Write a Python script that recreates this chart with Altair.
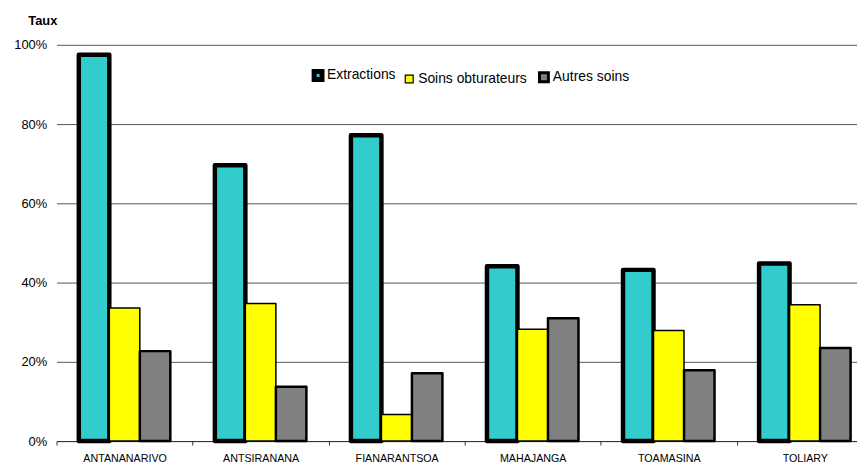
import altair as alt
import pandas as pd

regions = ["ANTANANARIVO", "ANTSIRANANA", "FIANARANTSOA", "MAHAJANGA", "TOAMASINA", "TOLIARY"]
series = ["Extractions", "Soins obturateurs", "Autres soins"]
extractions = [97.5, 69.6, 77.2, 44.1, 43.2, 44.8]
soins_obt = [33.6, 34.7, 6.7, 28.2, 27.9, 34.4]
autres = [22.7, 13.7, 17.1, 31.0, 17.9, 23.5]

colors = ["#33CCCC", "#FFFF00", "#808080"]
strokes = [4.5, 1.5, 2.5]

rows = []
for i, r in enumerate(regions):
    for j, (s, vals) in enumerate(zip(series, [extractions, soins_obt, autres])):
        rows.append({"Region": r, "Serie": s, "Taux": vals[i] / 100, "sw": strokes[j]})
df = pd.DataFrame(rows)

FONT = "Liberation Sans"

chart = alt.Chart(df).mark_bar(stroke="black", strokeJoin="round").encode(
    x=alt.X("Region:N", sort=regions,
            scale=alt.Scale(range=[0, 824], paddingInner=0, paddingOuter=0),
            axis=alt.Axis(title=None, labelAngle=0, labelFontSize=10.8, labelFont=FONT,
                          labelColor="black", tickBand="extent", tickSize=4,
                          tickColor="#333", domainColor="#333", labelPadding=8,
                          grid=False)),
    xOffset=alt.XOffset("Serie:N", sort=series,
                        scale=alt.Scale(domain=series, paddingInner=0, paddingOuter=0.73)),
    y=alt.Y("Taux:Q",
            scale=alt.Scale(domain=[0, 1]),
            axis=alt.Axis(format=".0%", values=[0, 0.2, 0.4, 0.6, 0.8, 1.0],
                          title="Taux", titleAngle=0, titleFont=FONT, titleFontSize=13,
                          titleFontWeight="bold", titleColor="black",
                          titleX=-29, titleY=-25, titleAlign="left", titleBaseline="middle",
                          labelFont=FONT, labelFontSize=13, labelColor="black",
                          labelPadding=10, ticks=False, domain=False,
                          grid=True, gridColor="#555", gridWidth=1)),
    fill=alt.Fill("Serie:N", sort=series,
                  scale=alt.Scale(domain=series, range=colors),
                  legend=alt.Legend(title=None, orient="none", direction="horizontal",
                                    legendX=257, legendY=24, padding=0,
                                    symbolType="square",
                                    symbolSize=alt.ExprRef(expr="datum.value == 'Autres soins' ? 81 : 64"),
                                    symbolStrokeColor="black",
                                    symbolStrokeWidth=alt.ExprRef(expr="datum.value == 'Extractions' ? 5 : datum.value == 'Autres soins' ? 3 : 1.2"),
                                    labelFont=FONT, labelFontSize=14, labelColor="black",
                                    labelOffset=2, columnPadding=6)),
    strokeWidth=alt.StrokeWidth("sw:Q", scale=None),
).properties(
    width=808,
    height=400,
    autosize=alt.AutoSizeParams(type="none"),
    padding={"left": 49, "top": 35, "right": 0, "bottom": 24},
).configure_view(stroke=None)

chart.save("out.html", embed_options={"renderer": "svg", "actions": False})
